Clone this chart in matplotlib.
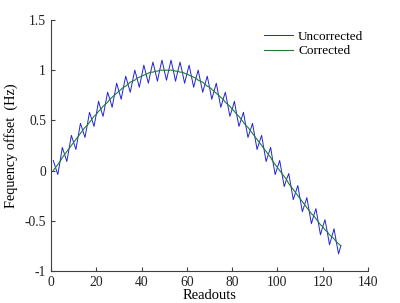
import numpy as np
import matplotlib
matplotlib.use('Agg')
import matplotlib.pyplot as plt

plt.rcParams['font.family'] = ['Liberation Serif', 'DejaVu Serif']
plt.rcParams['axes.unicode_minus'] = False

# readout index 1..128
readouts = list(range(1, 129))

# corrected frequency offset (Hz)
corrected = [
    0.00, 0.03, 0.06, 0.09, 0.13, 0.16, 0.19, 0.22, 0.25, 0.28,
    0.31, 0.34, 0.37, 0.40, 0.43, 0.45, 0.48, 0.51, 0.54, 0.56,
    0.59, 0.61, 0.64, 0.66, 0.68, 0.71, 0.73, 0.75, 0.77, 0.79,
    0.81, 0.83, 0.84, 0.86, 0.88, 0.89, 0.90, 0.92, 0.93, 0.94,
    0.95, 0.96, 0.97, 0.98, 0.98, 0.99, 0.99, 1.00, 1.00, 1.00,
    1.00, 1.00, 1.00, 1.00, 0.99, 0.99, 0.98, 0.98, 0.97, 0.96,
    0.95, 0.94, 0.93, 0.92, 0.90, 0.89, 0.88, 0.86, 0.84, 0.83,
    0.81, 0.79, 0.77, 0.75, 0.73, 0.71, 0.68, 0.66, 0.64, 0.61,
    0.59, 0.56, 0.54, 0.51, 0.48, 0.45, 0.43, 0.40, 0.37, 0.34,
    0.31, 0.28, 0.25, 0.22, 0.19, 0.16, 0.13, 0.09, 0.06, 0.03,
    0.00, -0.03, -0.06, -0.09, -0.13, -0.16, -0.19, -0.22, -0.25, -0.28,
    -0.31, -0.34, -0.37, -0.40, -0.43, -0.45, -0.48, -0.51, -0.54, -0.56,
    -0.59, -0.61, -0.64, -0.66, -0.68, -0.71, -0.73, -0.75,
]

# uncorrected frequency offset (Hz), the zigzag blue curve
uncorrected = [
    0.10, 0.03, -0.04, 0.09, 0.23, 0.16, 0.09, 0.22, 0.35, 0.28,
    0.21, 0.34, 0.47, 0.40, 0.33, 0.45, 0.58, 0.51, 0.44, 0.56,
    0.69, 0.61, 0.54, 0.66, 0.78, 0.71, 0.63, 0.75, 0.87, 0.79,
    0.71, 0.83, 0.94, 0.86, 0.78, 0.89, 1.00, 0.92, 0.83, 0.94,
    1.05, 0.96, 0.87, 0.98, 1.08, 0.99, 0.89, 1.00, 1.10, 1.00,
    0.90, 1.00, 1.10, 1.00, 0.89, 0.99, 1.08, 0.98, 0.87, 0.96,
    1.05, 0.94, 0.83, 0.92, 1.00, 0.89, 0.78, 0.86, 0.94, 0.83,
    0.71, 0.79, 0.87, 0.75, 0.63, 0.71, 0.78, 0.66, 0.54, 0.61,
    0.69, 0.56, 0.44, 0.51, 0.58, 0.45, 0.33, 0.40, 0.47, 0.34,
    0.21, 0.28, 0.35, 0.22, 0.09, 0.16, 0.23, 0.09, -0.04, 0.03,
    0.10, -0.03, -0.16, -0.09, -0.03, -0.16, -0.29, -0.22, -0.15, -0.28,
    -0.41, -0.34, -0.27, -0.40, -0.53, -0.45, -0.38, -0.51, -0.64, -0.56,
    -0.49, -0.61, -0.74, -0.66, -0.58, -0.71, -0.83, -0.75,
]

x_ticks = [0, 20, 40, 60, 80, 100, 120, 140]
y_ticks = [-1, -0.5, 0, 0.5, 1, 1.5]
y_tick_labels = ['-1', '-0.5', '0', '0.5', '1', '1.5']

fig = plt.figure(figsize=(4.0, 3.03), dpi=100)
ax = fig.add_axes([0.1275, 0.106, 0.7925, 0.828])

ax.plot(readouts, uncorrected, color='#2222d8', linewidth=0.7, label='Uncorrected')
ax.plot(readouts, corrected, color='#1e7d32', linewidth=0.8, label='Corrected')

ax.set_xlim(0, 140)
ax.set_ylim(-1, 1.5)
ax.set_xticks(x_ticks)
ax.set_xticklabels([str(t) for t in x_ticks])
ax.set_yticks(y_ticks)
ax.set_yticklabels(y_tick_labels)

ax.spines['top'].set_visible(False)
ax.spines['right'].set_visible(False)
for s in ['left', 'bottom']:
    ax.spines[s].set_color('#404040')
    ax.spines[s].set_linewidth(0.8)
ax.tick_params(direction='in', length=3, width=0.8, color='#404040',
               labelsize=9.8, labelcolor='#222222')

ax.set_xlabel('Readouts', fontsize=10.5, labelpad=0)
ax.set_ylabel('Fequency offset  (Hz)', fontsize=10.3, labelpad=5)

ax.legend(loc='upper left', bbox_to_anchor=(0.655, 0.98), frameon=False,
          fontsize=9.5, handlelength=2.2, handletextpad=0.4, labelspacing=0.2,
          borderaxespad=0)

plt.savefig('out.png', dpi=100)
